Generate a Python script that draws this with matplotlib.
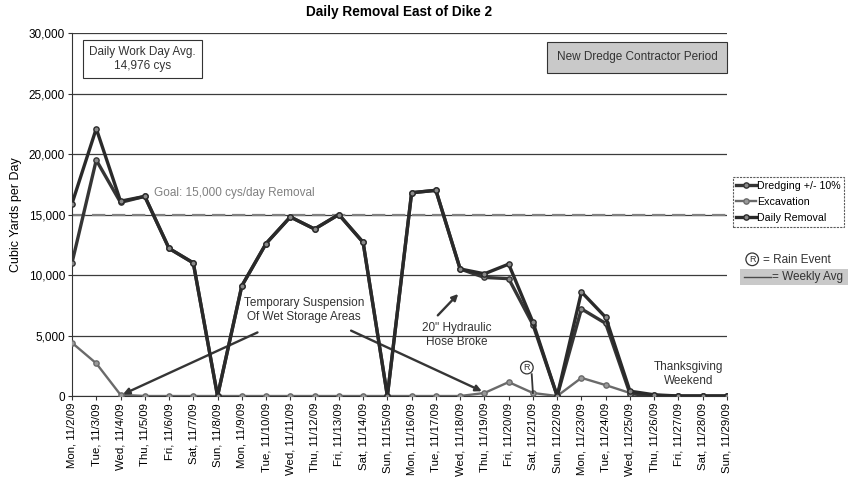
import matplotlib
matplotlib.use("Agg")
import matplotlib.pyplot as plt
from matplotlib.lines import Line2D

plt.rcParams["font.family"] = ["Liberation Sans", "DejaVu Sans"]

# category labels, one per day
days = ["Mon", "Tue", "Wed", "Thu", "Fri", "Sat", "Sun"] * 4
dates = [f"11/{d}/09" for d in range(2, 30)]
labels = [f"{w}, {d}" for w, d in zip(days, dates)]

# values (cubic yards per day)
dredging = [11000, 19500, 16000, 16500, 12200, 11000, 0, 9100, 12600, 14800,
            13800, 15000, 12700, 0, 16800, 17000, 10500, 9800, 9700, 5900,
            0, 7200, 6000, 200, 0, 0, 0, 0]
excavation = [4400, 2700, 100, 0, 0, 0, 0, 0, 0, 0,
              0, 0, 0, 0, 0, 0, 0, 250, 1150, 250,
              0, 1500, 900, 250, 100, 0, 0, 0]
daily_removal = [15900, 22100, 16100, 16500, 12200, 11000, 0, 9100, 12600, 14800,
                 13800, 15000, 12700, 0, 16800, 17000, 10500, 10100, 10900, 6100,
                 0, 8600, 6500, 400, 100, 0, 0, 0]
goal = 15000
rain_day = 19  # Sat 11/21

DARK = "#353535"
MID = "#6a6a6a"
FS = 8.5

fig = plt.figure(figsize=(8.49, 4.82), dpi=100)
ax = fig.add_axes([0.0848, 0.1784, 0.7715, 0.7531])

x = list(range(len(labels)))

ax.axhline(goal, color="#808080", lw=1.6, ls=(0, (6, 3)), zorder=2)
ax.plot(x, excavation, color=MID, lw=1.7, marker="o", ms=3.8,
        mfc="#9a9a9a", mec=MID, label="Excavation", zorder=3)
ax.plot(x, dredging, color=DARK, lw=2.4, marker="o", ms=3.8,
        mfc="#8a8a8a", mec=DARK, label="Dredging +/- 10%", zorder=4)
ax.plot(x, daily_removal, color="#2a2a2a", lw=2.4, marker="o", ms=3.8,
        mfc="#8a8a8a", mec="#2a2a2a", label="Daily Removal", zorder=5)

ax.set_xlim(0, len(labels) - 1)
ax.set_ylim(0, 30000)
ax.set_yticks(range(0, 30001, 5000))
ax.set_yticklabels([f"{v:,}" for v in range(0, 30001, 5000)], fontsize=FS)
ax.set_xticks(x)
ax.set_xticklabels(labels, rotation=90, fontsize=8.2)
ax.tick_params(axis="both", length=3, color="#333", pad=2)
ax.grid(axis="y", color="#3c3c3c", lw=0.9)
ax.set_axisbelow(True)
for side in ["top", "right"]:
    ax.spines[side].set_visible(False)
ax.spines["left"].set_color("#333")
ax.spines["bottom"].set_color("#333")
ax.set_ylabel("Cubic Yards per Day", fontsize=9, labelpad=5)

ax.set_title("Daily Removal East of Dike 2", fontsize=9.8, fontweight="bold",
             pad=12)

# annotations
ax.text(2.9, 27850, "Daily Work Day Avg.\n14,976 cys", fontsize=FS,
        ha="center", va="center", color="#333",
        bbox=dict(boxstyle="square,pad=0.55", fc="white", ec="#333", lw=0.8))
ax.text(23.3, 28000, "New Dredge Contractor Period", fontsize=FS,
        ha="center", va="center", color="#333",
        bbox=dict(boxstyle="square,pad=0.8", fc="#c9c9c9", ec="#333", lw=0.8))
ax.text(3.4, 16780, "Goal: 15,000 cys/day Removal", fontsize=FS,
        ha="left", va="center", color="#808080")

ax.text(9.56, 7100, "Temporary Suspension\nOf Wet Storage Areas", fontsize=FS,
        ha="center", va="center", color="#333")
arrow = dict(arrowstyle="-|>", color=DARK, lw=1.7, mutation_scale=9)
ax.annotate("", xy=(2.0, 50), xytext=(7.75, 5350), arrowprops=arrow)
ax.annotate("", xy=(17.0, 300), xytext=(11.4, 5500), arrowprops=arrow)

ax.text(15.87, 5040, "20\" Hydraulic\nHose Broke", fontsize=FS,
        ha="center", va="center", color="#333")
ax.annotate("", xy=(16.0, 8600), xytext=(15.0, 6500), arrowprops=arrow)

ax.text(25.43, 1820, "Thanksgiving\nWeekend", fontsize=FS,
        ha="center", va="center", color="#333")

# rain event marker
ax.plot([rain_day - 0.05, rain_day], [1800, 250], color=DARK, lw=1.3, zorder=6)
ax.text(rain_day - 0.25, 2350, "R", fontsize=6.5, ha="center", va="center",
        color="#333", zorder=7,
        bbox=dict(boxstyle="circle,pad=0.2", fc="white", ec="#333", lw=0.9))

# legend on the right
handles, names = ax.get_legend_handles_labels()
order = [names.index(n) for n in ["Dredging +/- 10%", "Excavation", "Daily Removal"]]
leg = fig.legend([handles[i] for i in order], [names[i] for i in order],
                 loc="upper left", bbox_to_anchor=(0.863, 0.632),
                 fontsize=7.7, frameon=True, fancybox=False, edgecolor="#333",
                 handlelength=1.8, handletextpad=0.1, borderpad=0.35,
                 labelspacing=0.55, borderaxespad=0)
leg.get_frame().set_linewidth(0.8)
leg.get_frame().set_linestyle((0, (2, 1)))

fig.text(0.886, 0.462, "R", fontsize=6.5, ha="center", va="center", color="#333",
         bbox=dict(boxstyle="circle,pad=0.2", fc="white", ec="#333", lw=0.9))
fig.text(0.899, 0.460, "= Rain Event", fontsize=FS, ha="left", va="center",
         color="#333")
fig.patches.append(plt.Rectangle((0.872, 0.409), 0.127, 0.032,
                                 transform=fig.transFigure, fc="#c9c9c9",
                                 ec="none", zorder=0))
fig.add_artist(Line2D([0.876, 0.908], [0.425, 0.425],
                      transform=fig.transFigure, color="#4a4a4a", lw=1.0))
fig.text(0.909, 0.4255, "= Weekly Avg", fontsize=FS, ha="left", va="center",
         color="#333")

fig.savefig("out.png", dpi=100)
